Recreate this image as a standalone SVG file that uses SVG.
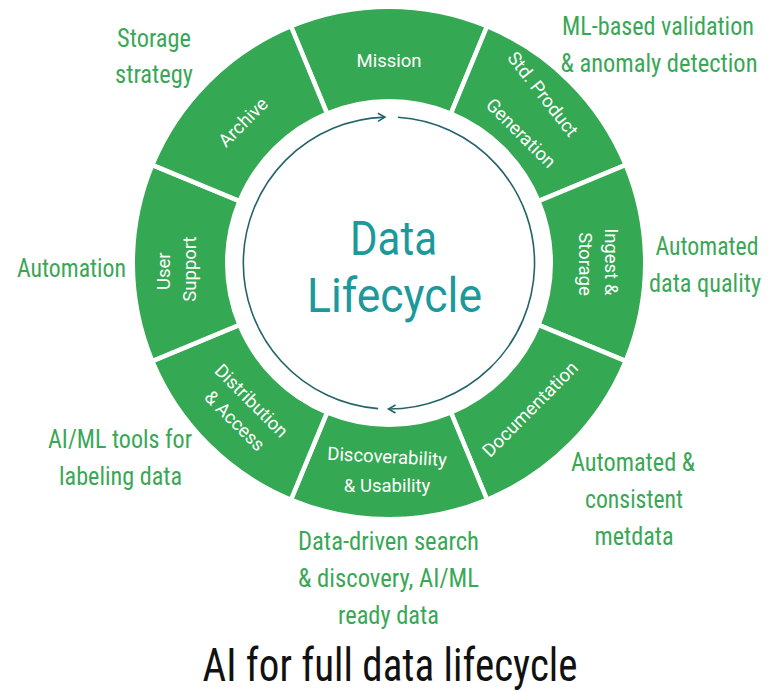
<svg xmlns="http://www.w3.org/2000/svg" width="769" height="692" viewBox="0 0 769 692">
  <style>
    .seg { fill: #35a853; stroke: #ffffff; stroke-width: 4.5; }
    .lbl { font-family: Roboto, "Noto Sans", sans-serif; font-size: 18.5px; fill: #ffffff; text-anchor: middle; }
    .note { font-family: "Liberation Sans Narrow", "Roboto Condensed", "DejaVu Sans Condensed", sans-serif; font-size: 26px; fill: #3aa757; text-anchor: middle; }
    .hub { font-family: Roboto, "Noto Sans", sans-serif; font-size: 49px; fill: #1b999b; text-anchor: middle; }
    .title { font-family: "Liberation Sans Narrow", "Roboto Condensed", "DejaVu Sans Condensed", sans-serif; font-size: 47px; fill: #111111; text-anchor: middle; }
    .flow { fill: none; stroke: #23646b; stroke-width: 1.6; }
  </style>
  <defs>
    <!-- one 45-degree annular sector of the ring, centred on the top; rotated for each stage -->
    <path id="sector" d="M290.94,26.25 A256.25,256.25 0 0 1 487.06,26.25 L450.90,113.56 A161.75,161.75 0 0 0 327.10,113.56 Z"/>
    <marker id="head" markerUnits="userSpaceOnUse" markerWidth="12" markerHeight="12" refX="9" refY="6" orient="auto">
      <path d="M2,2 L9,6 L2,10" fill="none" stroke="#23646b" stroke-width="1.6"/>
    </marker>
  </defs>

  <!-- ring stages, clockwise from the top -->
  <g id="stage-mission">
    <use href="#sector" class="seg"/>
    <text class="lbl" x="389" y="67" font-size="20">Mission</text>
  </g>
  <g id="stage-product-generation">
    <use href="#sector" class="seg" transform="rotate(45 389 263)"/>
    <text class="lbl" transform="translate(543,94) rotate(52)" y="6.5">Std. Product</text>
    <text class="lbl" transform="translate(521,133) rotate(45)" y="6.5">Generation</text>
  </g>
  <g id="stage-ingest">
    <use href="#sector" class="seg" transform="rotate(90 389 263)"/>
    <text class="lbl" transform="translate(598,264) rotate(90)">
      <tspan x="0" y="-6.5">Ingest &amp;</tspan>
      <tspan x="0" y="19.5">Storage</tspan>
    </text>
  </g>
  <g id="stage-documentation">
    <use href="#sector" class="seg" transform="rotate(135 389 263)"/>
    <text class="lbl" transform="translate(530,409) rotate(-45)" y="6.5">Documentation</text>
  </g>
  <g id="stage-discoverability">
    <use href="#sector" class="seg" transform="rotate(180 389 263)"/>
    <text class="lbl" x="387" y="463" transform="rotate(3 387 458)">Discoverability</text>
    <text class="lbl" x="387" y="492">&amp; Usability</text>
  </g>
  <g id="stage-distribution">
    <use href="#sector" class="seg" transform="rotate(225 389 263)"/>
    <text class="lbl" transform="translate(244,411.5) rotate(45)">
      <tspan x="0" y="-6.5">Distribution</tspan>
      <tspan x="0" y="19.5">&amp; Access</tspan>
    </text>
  </g>
  <g id="stage-user-support">
    <use href="#sector" class="seg" transform="rotate(270 389 263)"/>
    <text class="lbl" transform="translate(176,269) rotate(-90)">
      <tspan x="0" y="-6.5">User</tspan>
      <tspan x="0" y="19.5">Support</tspan>
    </text>
  </g>
  <g id="stage-archive">
    <use href="#sector" class="seg" transform="rotate(315 389 263)"/>
    <text class="lbl" transform="translate(243,122) rotate(-45)" y="6.5">Archive</text>
  </g>

  <!-- centre title -->
  <g id="hub">
    <text class="hub" x="393.5" y="255" textLength="87" lengthAdjust="spacingAndGlyphs">Data</text>
    <text class="hub" x="394.5" y="312" textLength="175" lengthAdjust="spacingAndGlyphs">Lifecycle</text>
  </g>

  <!-- clockwise flow arrows inside the ring -->
  <g id="connectors">
    <path class="flow" d="M397.9,117.3 A146,146 0 0 1 388.5,409" marker-end="url(#head)"/>
    <path class="flow" d="M378.1,408.6 A146,146 0 0 1 384.9,117.1" marker-end="url(#head)"/>
  </g>

  <!-- AI opportunities around the ring -->
  <g id="note-archive">
    <text class="note" x="154" y="47" textLength="74" lengthAdjust="spacingAndGlyphs">Storage</text>
    <text class="note" x="154" y="83" textLength="78" lengthAdjust="spacingAndGlyphs">strategy</text>
  </g>
  <g id="note-product-generation">
    <text class="note" x="658" y="35" textLength="192" lengthAdjust="spacingAndGlyphs">ML-based validation</text>
    <text class="note" x="659" y="72" textLength="197" lengthAdjust="spacingAndGlyphs">&amp; anomaly detection</text>
  </g>
  <g id="note-ingest">
    <text class="note" x="707" y="255" textLength="103" lengthAdjust="spacingAndGlyphs">Automated</text>
    <text class="note" x="705" y="292" textLength="112" lengthAdjust="spacingAndGlyphs">data quality</text>
  </g>
  <g id="note-documentation">
    <text class="note" x="633" y="471" textLength="124" lengthAdjust="spacingAndGlyphs">Automated &amp;</text>
    <text class="note" x="634" y="508" textLength="98" lengthAdjust="spacingAndGlyphs">consistent</text>
    <text class="note" x="634" y="545" textLength="79" lengthAdjust="spacingAndGlyphs">metdata</text>
  </g>
  <g id="note-discoverability">
    <text class="note" x="388.5" y="550" textLength="181" lengthAdjust="spacingAndGlyphs">Data-driven search</text>
    <text class="note" x="388.5" y="587" textLength="181" lengthAdjust="spacingAndGlyphs">&amp; discovery, AI/ML</text>
    <text class="note" x="388.5" y="624" textLength="101" lengthAdjust="spacingAndGlyphs">ready data</text>
  </g>
  <g id="note-distribution">
    <text class="note" x="120" y="448" textLength="144" lengthAdjust="spacingAndGlyphs">AI/ML tools for</text>
    <text class="note" x="120.5" y="485" textLength="123" lengthAdjust="spacingAndGlyphs">labeling data</text>
  </g>
  <g id="note-user-support">
    <text class="note" x="71.5" y="277" textLength="109" lengthAdjust="spacingAndGlyphs">Automation</text>
  </g>

  <g id="caption">
    <text class="title" x="390" y="681" textLength="375" lengthAdjust="spacingAndGlyphs">AI for full data lifecycle</text>
  </g>
</svg>
